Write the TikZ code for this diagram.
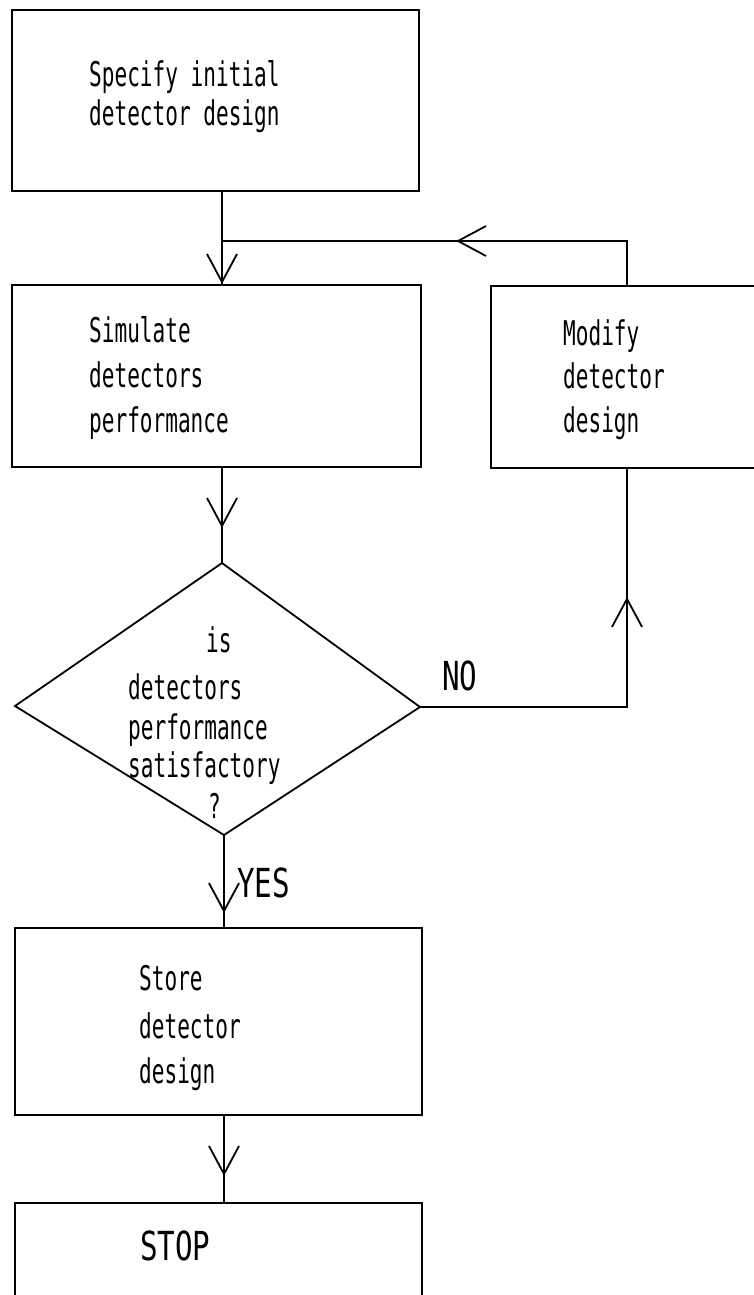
\documentclass[tikz,border=0pt]{standalone}
\usepackage{fontspec}
\newfontfamily\plotfont[FakeStretch=0.62]{DejaVu Sans Mono}
\newfontfamily\plotcaps[FakeStretch=0.73]{DejaVu Sans Mono}
\usetikzlibrary{arrows.meta,decorations.markings}
\tikzset{
  box/.style={draw, rectangle, inner sep=0pt, line width=1.8pt},
  txt/.style={anchor=base west, inner sep=0pt, font=\plotfont\fontsize{34}{38}\selectfont},
  lab/.style={anchor=base west, inner sep=0pt, font=\plotcaps\fontsize{40}{44}\selectfont},
  conn/.style={draw, line width=1.8pt},
  midarrow/.style={postaction={decorate}, decoration={markings,
      mark=at position #1 with {\arrow{Straight Barb[length=28pt,width=30pt]}}}},
}
\begin{document}
\begin{tikzpicture}[x=1pt,y=-1pt]
\path[use as bounding box, clip] (0,0) rectangle (754,1295);
\fill[white] (0,0) rectangle (754,1295);

% boxes
\node[box, minimum width=407pt, minimum height=181pt] (spec) at (215.5,100.5) {};
\node[box, minimum width=409pt, minimum height=182pt] (sim) at (216.5,376) {};
\node[box, minimum width=280pt, minimum height=182pt] (mod) at (631,377) {};
\node[box, minimum width=407pt, minimum height=187pt] (store) at (218.5,1021.5) {};
\node[box, minimum width=407pt, minimum height=117pt] (stop) at (218.5,1261.5) {};

% decision diamond
\coordinate (dT) at (222,563);
\coordinate (dR) at (420,707);
\coordinate (dB) at (224,835);
\coordinate (dL) at (15,706);
\draw[conn, line join=miter] (dT) -- (dR) -- (dB) -- (dL) -- cycle;

% texts
\node[txt] (t1a) at (89,87) {Specify initial};
\node[txt] (t1b) at (89,125) {detector design};
\node[txt] (t2a) at (89,342) {Simulate};
\node[txt] (t2b) at (89,387) {detectors};
\node[txt] (t2c) at (89,432) {performance};
\node[txt] (t3a) at (563,345) {Modify};
\node[txt] (t3b) at (563,388) {detector};
\node[txt] (t3c) at (563,432) {design};
\node[txt] (t4a) at (206,652) {is};
\node[txt] (t4b) at (128,699) {detectors};
\node[txt] (t4c) at (128,739) {performance};
\node[txt] (t4d) at (128,777) {satisfactory};
\node[txt] (t4e) at (208,818) {?};
\node[txt] (t5a) at (139,990) {Store};
\node[txt] (t5b) at (139,1038) {detector};
\node[txt] (t5c) at (139,1083) {design};
\node[lab] (t6) at (140,1260) {STOP};
\node[lab] (no) at (442,690) {NO};
\node[lab] (yes) at (237,897) {YES};

% connectors
\coordinate (ax) at (222,0);
\coordinate (bx) at (224,0);
\coordinate (rx) at (627,0);
\coordinate (jn) at (222,241);
\draw[conn, midarrow=92pt] (spec.south -| ax) -- (sim.north -| ax);
\draw[conn, midarrow=215pt] (mod.north -| rx) |- (jn);
\draw[conn, midarrow=60pt] (sim.south -| ax) -- (dT);
\draw[conn, midarrow=317pt] (dR) -| (mod.south -| rx);
\draw[conn, midarrow=78pt] (dB) -- (store.north -| bx);
\draw[conn, midarrow=60pt] (store.south -| bx) -- (stop.north -| bx);
\end{tikzpicture}
\end{document}
